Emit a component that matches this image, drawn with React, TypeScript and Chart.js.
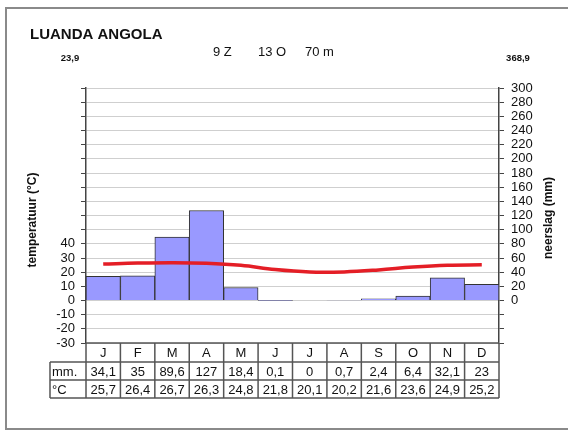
import React, { useEffect, useRef } from "react";
import { Chart, registerables } from "chart.js";

Chart.register(...registerables);

const months = ["J", "F", "M", "A", "M", "J", "J", "A", "S", "O", "N", "D"];
const precipitation = [34.1, 35, 89.6, 127, 18.4, 0.1, 0, 0.7, 2.4, 6.4, 32.1, 23];
const temperature = [25.7, 26.4, 26.7, 26.3, 24.8, 21.8, 20.1, 20.2, 21.6, 23.6, 24.9, 25.2];
const precipRowLabel = "mm.";
const tempRowLabel = "°C";
const title = "LUANDA ANGOLA";
const meanTemp = "23,9";
const totalPrecip = "368,9";
const latitude = "9 Z";
const longitude = "13 O";
const altitude = "70 m";
const leftAxisTitle = "temperatuur (°C)";
const rightAxisTitle = "neerslag (mm)";

const fmt = (v: number) => String(v).replace(".", ",");
const FONT = "'Liberation Sans', Arial, sans-serif";

const decorPlugin = {
  id: "decor",
  beforeDraw(chart: any) {
    const ctx = chart.ctx;
    ctx.save();
    ctx.fillStyle = "#ffffff";
    ctx.fillRect(0, 0, chart.width, chart.height);
    ctx.restore();
  },
  afterDraw(chart: any) {
    const ctx = chart.ctx;
    const { left, right, bottom } = chart.chartArea;
    const w = (right - left) / 12;
    ctx.save();
    // frame
    ctx.strokeStyle = "#8a8a8a";
    ctx.lineWidth = 2;
    ctx.beginPath();
    ctx.moveTo(580, 8);
    ctx.lineTo(6, 8);
    ctx.lineTo(6, 429);
    ctx.lineTo(580, 429);
    ctx.stroke();

    // titles
    ctx.fillStyle = "#111";
    ctx.textBaseline = "middle";
    ctx.textAlign = "left";
    ctx.font = `bold 15px ${FONT}`;
    ctx.fillText(title, 30, 35);
    ctx.font = `13px ${FONT}`;
    ctx.fillText(latitude, 213, 52);
    ctx.fillText(longitude, 258, 52);
    ctx.fillText(altitude, 305, 52);
    ctx.font = `bold 9.5px ${FONT}`;
    ctx.textAlign = "center";
    ctx.fillText(meanTemp, 70, 58);
    ctx.fillText(totalPrecip, 518, 58);

    // axis titles
    ctx.font = `bold 12px ${FONT}`;
    ctx.save();
    ctx.translate(33, 220);
    ctx.rotate(-Math.PI / 2);
    ctx.fillText(leftAxisTitle, 0, 0);
    ctx.restore();
    ctx.save();
    ctx.translate(549, 218);
    ctx.rotate(-Math.PI / 2);
    ctx.fillText(rightAxisTitle, 0, 0);
    ctx.restore();

    // table
    const y0 = bottom;
    const y1 = bottom + 19;
    const y2 = bottom + 37;
    const y3 = bottom + 55;
    const labelLeft = 50;
    ctx.strokeStyle = "#555";
    ctx.lineWidth = 1.5;
    ctx.beginPath();
    ctx.moveTo(left, y0);
    ctx.lineTo(right, y0);
    ctx.moveTo(labelLeft, y1);
    ctx.lineTo(right, y1);
    ctx.moveTo(labelLeft, y2);
    ctx.lineTo(right, y2);
    ctx.moveTo(labelLeft, y3);
    ctx.lineTo(right, y3);
    ctx.moveTo(labelLeft, y1);
    ctx.lineTo(labelLeft, y3);
    for (let i = 0; i <= 12; i++) {
      const x = left + i * w;
      ctx.moveTo(x, y0);
      ctx.lineTo(x, y3);
    }
    ctx.stroke();

    ctx.fillStyle = "#111";
    ctx.font = `13px ${FONT}`;
    ctx.textAlign = "center";
    const xs = chart.scales.x;
    months.forEach((m, i) => {
      const cx = xs.getPixelForValue(i);
      ctx.fillText(m, cx, (y0 + y1) / 2 + 1);
      ctx.fillText(fmt(precipitation[i]), cx, (y1 + y2) / 2 + 1);
      ctx.fillText(fmt(temperature[i]), cx, (y2 + y3) / 2 + 1);
    });
    ctx.textAlign = "left";
    ctx.fillText(precipRowLabel, labelLeft + 2, (y1 + y2) / 2 + 1);
    ctx.fillText(tempRowLabel, labelLeft + 2, (y2 + y3) / 2 + 1);
    ctx.restore();
  },
};

export default function App() {
  const ref = useRef<HTMLCanvasElement | null>(null);
  useEffect(() => {
    if (!ref.current) return;
    const chart = new Chart(ref.current, {
      type: "bar",
      data: {
        labels: months,
        datasets: [
          {
            type: "line",
            label: "temperatuur",
            data: temperature,
            yAxisID: "y",
            borderColor: "rgb(228,30,38)",
            borderWidth: 3.5,
            pointRadius: 0,
            tension: 0.4,
            fill: false,
            order: 0,
          } as any,
          {
            type: "bar",
            label: "neerslag",
            data: precipitation,
            yAxisID: "y2",
            backgroundColor: "rgb(153,153,255)",
            borderColor: "#333",
            borderWidth: 1,
            barPercentage: 1,
            categoryPercentage: 1,
            order: 1,
          },
        ],
      },
      options: {
        responsive: false,
        animation: false,
        devicePixelRatio: 1,
        layout: { padding: { left: 0, right: 0, top: 88, bottom: 88 } },
        plugins: { legend: { display: false }, tooltip: { enabled: false }, title: { display: false } },
        scales: {
          x: { display: false, offset: true, grid: { display: false } },
          y: {
            position: "left",
            min: -30,
            max: 150,
            afterFit: (s: any) => {
              s.width = 86;
            },
            ticks: {
              stepSize: 10,
              autoSkip: false,
              padding: 6,
              color: "#111",
              font: { family: FONT, size: 13 },
              callback: (v: any) => (Number(v) <= 40 ? String(v) : ""),
            },
            grid: { color: "#cfcfcf", lineWidth: 1, tickLength: 5, tickColor: "#444", tickWidth: 1 },
            border: { display: true, color: "#444", width: 1.5 },
          },
          y2: {
            position: "right",
            min: -60,
            max: 300,
            afterFit: (s: any) => {
              s.width = 69;
            },
            ticks: {
              stepSize: 20,
              autoSkip: false,
              padding: 7,
              color: "#111",
              font: { family: FONT, size: 13 },
              callback: (v: any) => (Number(v) >= 0 ? String(v) : ""),
            },
            grid: { drawOnChartArea: false, tickLength: 5, tickColor: "#444", tickWidth: 1 },
            border: { display: true, color: "#444", width: 1.5 },
          },
        },
      } as any,
      plugins: [decorPlugin],
    });
    return () => chart.destroy();
  }, []);
  return (
    <div style={{ position: "fixed", left: 0, top: 0, width: 568, height: 431, background: "#fff" }}>
      <canvas ref={ref} width={568} height={431} style={{ display: "block" }} />
    </div>
  );
}
